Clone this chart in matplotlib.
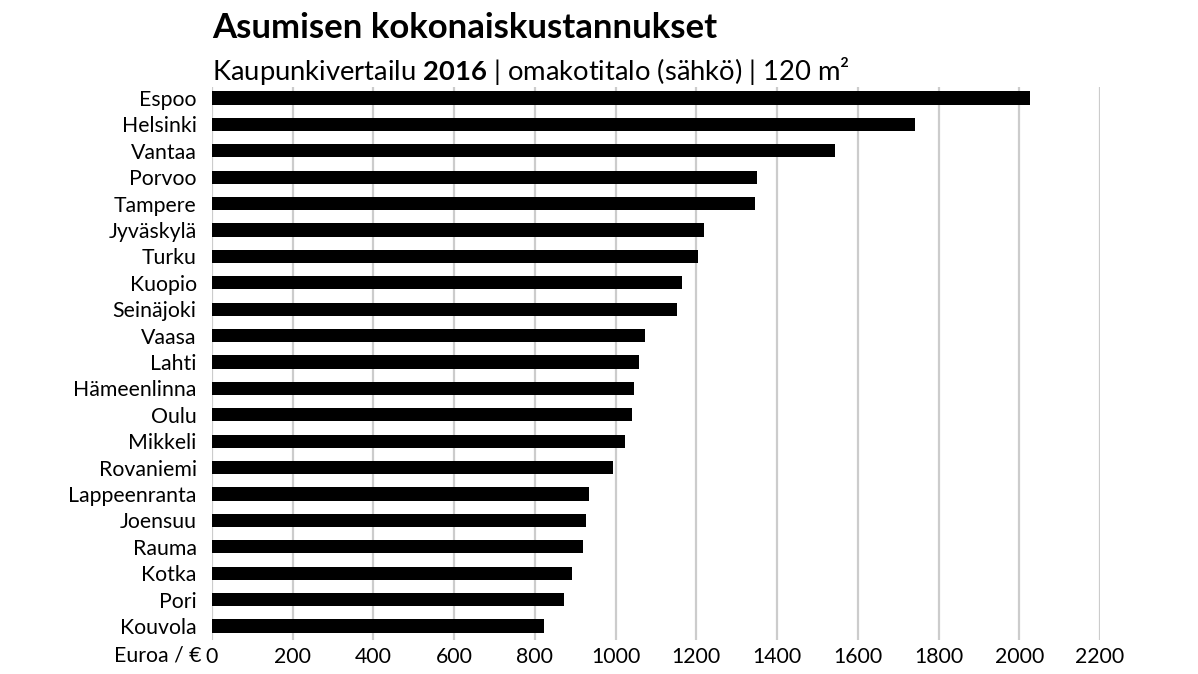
import matplotlib
matplotlib.use("Agg")
import matplotlib.pyplot as plt

cities = ["Espoo", "Helsinki", "Vantaa", "Porvoo", "Tampere", "Jyväskylä", "Turku",
          "Kuopio", "Seinäjoki", "Vaasa", "Lahti", "Hämeenlinna", "Oulu", "Mikkeli",
          "Rovaniemi", "Lappeenranta", "Joensuu", "Rauma", "Kotka", "Pori", "Kouvola"]
costs = [2027, 1742, 1544, 1350, 1345, 1220, 1204, 1165, 1151, 1073, 1059, 1046,
         1040, 1024, 994, 934, 927, 919, 892, 871, 822]
xticks = [0, 200, 400, 600, 800, 1000, 1200, 1400, 1600, 1800, 2000, 2200]

title = "Asumisen kokonaiskustannukset"
unit_label = "Euroa / €"

plt.rcParams['font.family'] = ['Lato', 'DejaVu Sans']
plt.rcParams['mathtext.fontset'] = 'custom'
plt.rcParams['mathtext.rm'] = 'Lato'
plt.rcParams['mathtext.bf'] = 'Lato:bold'

fig = plt.figure(figsize=(11.98, 6.74), dpi=100)
W, H = 1198, 674
left, right = 212 / W, 1100 / W
top, bottom = 1 - 87 / H, 1 - 640 / H
ax = fig.add_axes([left, bottom, right - left, top - bottom])

y = list(range(len(cities)))
ax.barh(y, costs, height=0.5, color="black", zorder=3)
ax.set_ylim(len(cities) - 1 + 0.53, -0.42)
ax.set_xlim(0, 2200)
ax.set_xticks(xticks)
ax.set_xticklabels([str(t) for t in xticks])
ax.set_yticks(y)
ax.set_yticklabels(cities)
for s in ax.spines.values():
    s.set_visible(False)
ax.grid(axis="x", color="#cccccc", linewidth=1.6, zorder=0)
ax.tick_params(axis="both", length=0, labelsize=15.3, colors="black")
ax.tick_params(axis="y", pad=11)
ax.tick_params(axis="x", pad=5)

fig.text(212 / W, 1 - 38 / H, title, fontsize=25, fontweight="bold", ha="left", va="baseline")
fig.text(212 / W, 1 - 80 / H, "Kaupunkivertailu $\\bf{2016}$ | omakotitalo (sähkö) | 120 m²",
         fontsize=19.7, ha="left", va="baseline")
fig.text(202 / W, 1 - 662 / H, unit_label, fontsize=15.3, ha="right", va="baseline")

fig.savefig("out.png", dpi=100)
